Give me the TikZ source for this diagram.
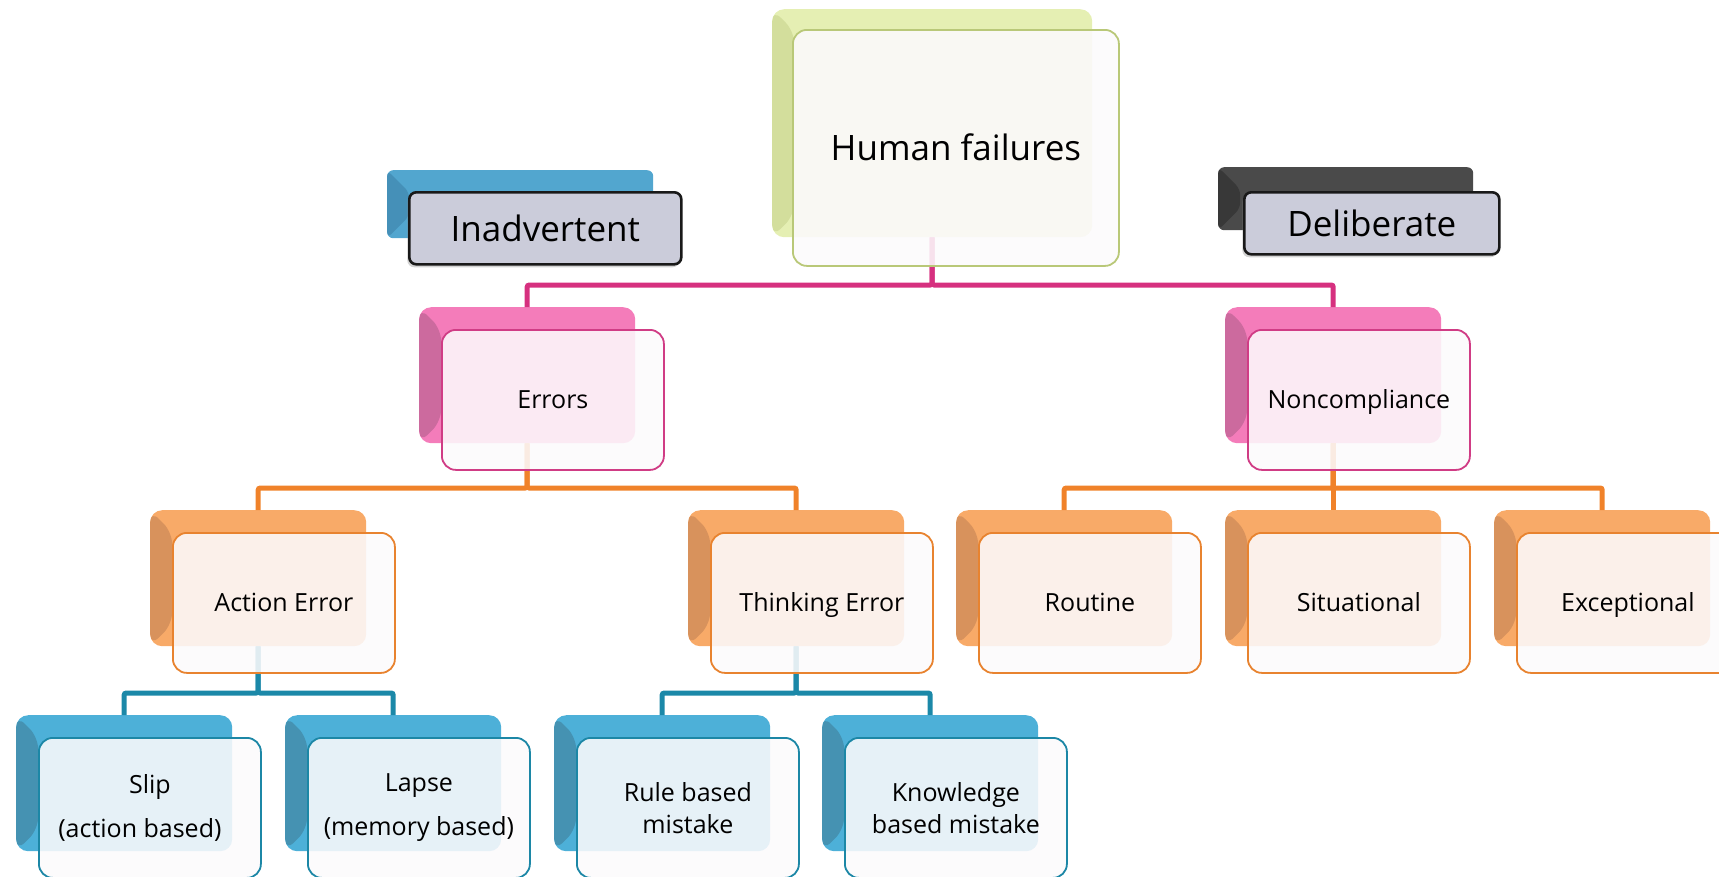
\documentclass[tikz,border=0pt]{standalone}
\usepackage{fontspec}
\setmainfont{Open Sans}
\usetikzlibrary{shadows}

% palette
\definecolor{greenB}{HTML}{E5EFB3}
\definecolor{greenD}{HTML}{D3DE9C}
\definecolor{greenE}{HTML}{B9C878}
\definecolor{pinkB}{HTML}{F47CBA}
\definecolor{pinkD}{HTML}{CC6A9E}
\definecolor{pinkE}{HTML}{D03C85}
\definecolor{pinkW}{HTML}{D6307F}
\definecolor{orangeB}{HTML}{F8AA68}
\definecolor{orangeD}{HTML}{D8925C}
\definecolor{orangeE}{HTML}{E8832F}
\definecolor{orangeW}{HTML}{F0822A}
\definecolor{blueB}{HTML}{4DB0D8}
\definecolor{blueD}{HTML}{4592B2}
\definecolor{blueE}{HTML}{1C87A6}
\definecolor{blueW}{HTML}{1B88A8}
\definecolor{labBlue}{HTML}{52A6CF}
\definecolor{labBlueD}{HTML}{4590B8}
\definecolor{labGray}{HTML}{4A4A4A}
\definecolor{labGrayD}{HTML}{383838}
\definecolor{labFill}{HTML}{CBCCDA}
\definecolor{cardFill}{HTML}{FCFAFC}

\tikzset{
  backbox/.style 2 args={draw=none, fill=#1, rounded corners=12pt, inner sep=0pt,
    anchor=north west, minimum width=216pt, minimum height=136pt,
    path picture={\fill[#2] (path picture bounding box.north west)
      -- ([shift={(22pt,-22pt)}]path picture bounding box.north west)
      -- ([shift={(22pt,22pt)}]path picture bounding box.south west)
      -- (path picture bounding box.south west) -- cycle;}},
  frontbox/.style={draw=#1, line width=1.8pt, fill=cardFill, fill opacity=0.88,
    text opacity=1, rounded corners=14pt, inner sep=0pt, anchor=north west,
    minimum width=222pt, minimum height=140pt, align=center,
    font=\fontsize{25}{32}\selectfont},
  oneline/.style={text height=18pt, text depth=0pt},
  labelbox/.style={draw=black!90, line width=2.6pt, fill=labFill, rounded corners=7pt,
    inner sep=0pt, anchor=north west, font=\fontsize{35}{40}\selectfont,
    drop shadow={opacity=0.35, shadow xshift=-2pt, shadow yshift=-3pt}},
  wire/.style={line width=5pt, draw=#1, rounded corners=2pt},
}

\begin{document}
\begin{tikzpicture}[x=1pt,y=-1pt]
\useasboundingbox (0,0) rectangle (1719,876);
\clip (0,0) rectangle (1719,876);

% back plates
\node[backbox={greenB}{greenD}, minimum width=320pt, minimum height=228pt] (hfB) at (772,9) {};
\node[backbox={labBlue}{labBlueD}, minimum width=266pt, minimum height=68pt, rounded corners=6pt] (inB) at (387,170) {};
\node[backbox={labGray}{labGrayD}, minimum width=255pt, minimum height=63pt, rounded corners=6pt] (deB) at (1218,167) {};

\node[backbox={pinkB}{pinkD}] (errB) at (419,307) {};
\node[backbox={pinkB}{pinkD}] (ncB)  at (1225,307) {};

\node[backbox={orangeB}{orangeD}] (actB) at (150,510) {};
\node[backbox={orangeB}{orangeD}] (thkB) at (688,510) {};
\node[backbox={orangeB}{orangeD}] (rouB) at (956,510) {};
\node[backbox={orangeB}{orangeD}] (sitB) at (1225,510) {};
\node[backbox={orangeB}{orangeD}] (excB) at (1494,510) {};

\node[backbox={blueB}{blueD}] (slpB) at (16,715) {};
\node[backbox={blueB}{blueD}] (lpsB) at (285,715) {};
\node[backbox={blueB}{blueD}] (rulB) at (554,715) {};
\node[backbox={blueB}{blueD}] (knwB) at (822,715) {};

% connectors
\draw[wire=pinkW] (hfB.south) |- ([yshift=22pt]errB.north) -- (errB.north);
\draw[wire=pinkW] (hfB.south) |- ([yshift=22pt]ncB.north) -- (ncB.north);

\draw[wire=orangeW] (errB.south) |- ([yshift=22pt]actB.north) -- (actB.north);
\draw[wire=orangeW] (errB.south) |- ([yshift=22pt]thkB.north) -- (thkB.north);
\draw[wire=orangeW] (ncB.south) |- ([yshift=22pt]rouB.north) -- (rouB.north);
\draw[wire=orangeW] (ncB.south) -- (sitB.north);
\draw[wire=orangeW] (ncB.south) |- ([yshift=22pt]excB.north) -- (excB.north);

\draw[wire=blueW] (actB.south) |- ([yshift=22pt]slpB.north) -- (slpB.north);
\draw[wire=blueW] (actB.south) |- ([yshift=22pt]lpsB.north) -- (lpsB.north);
\draw[wire=blueW] (thkB.south) |- ([yshift=22pt]rulB.north) -- (rulB.north);
\draw[wire=blueW] (thkB.south) |- ([yshift=22pt]knwB.north) -- (knwB.north);

% front cards
\node[frontbox=greenE, minimum width=326pt, minimum height=236pt,
      font=\fontsize{35}{42}\selectfont, text height=25pt, text depth=0pt] (hfF) at (792,29) {Human failures};
\node[labelbox, minimum width=272pt, minimum height=72pt] (inF) at (408,191) {Inadvertent};
\node[labelbox, minimum width=255pt, minimum height=62pt] (deF) at (1243,191) {Deliberate};

\node[frontbox=pinkE, oneline] (errF) at (441,329) {Errors};
\node[frontbox=pinkE, oneline] (ncF)  at (1247,329) {Noncompliance};

\node[frontbox=orangeE, oneline] (actF) at (172,532) {Action Error};
\node[frontbox=orangeE, oneline] (thkF) at (710,532) {Thinking Error};
\node[frontbox=orangeE, oneline] (rouF) at (978,532) {Routine};
\node[frontbox=orangeE, oneline] (sitF) at (1247,532) {Situational};
\node[frontbox=orangeE, oneline] (excF) at (1516,532) {Exceptional};

\node[frontbox=blueE] (slpF) at (38,737) {Slip\\[12pt](action based)\hspace*{20pt}};
\node[frontbox=blueE] (lpsF) at (307,737) {Lapse\\[12pt](memory based)};
\node[frontbox=blueE] (rulF) at (576,737) {Rule based\\mistake};
\node[frontbox=blueE] (knwF) at (844,737) {Knowledge\\based mistake};
\end{tikzpicture}
\end{document}
